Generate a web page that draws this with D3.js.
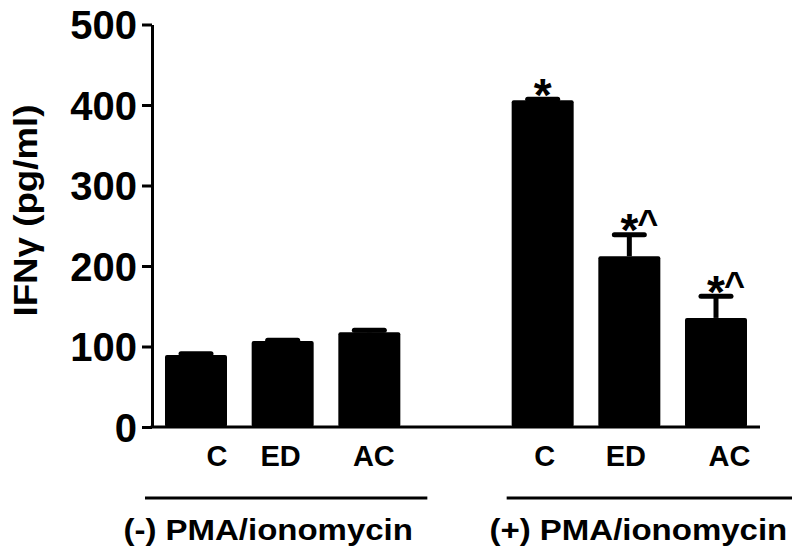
<!DOCTYPE html>
<html><head><meta charset="utf-8">
<script src="https://cdn.jsdelivr.net/npm/d3@7"></script>
<style>
body{margin:0;background:#fff}
text{font-family:"Liberation Sans",Arial,Helvetica,sans-serif;font-weight:bold;fill:#000}
</style>
</head><body>
<svg id="chart" width="800" height="557"></svg>
<script>
// ---- data ----
const categories = ["C", "ED", "AC", "C", "ED", "AC"];
const groups = ["(-) PMA/ionomycin", "(+) PMA/ionomycin"];
const groupOf = [0, 0, 0, 1, 1, 1];
const values = [89.5, 106.8, 117.6, 406, 212, 135.5];
const errors = [1.5, 1, 2.6, 1.2, 26.7, 27];
const annotations = ["", "", "", "*", "*^", "*^"];
const yTicks = [0, 100, 200, 300, 400, 500];
const yLabel = "IFNγ (pg/ml)";

// ---- layout ----
const W = 800, H = 557;
const plot = {left: 152, right: 760, top: 24.5, bottom: 427};
const labelDx = [21, -2, 4.5, 2, -3.5, 13.5];
const groupLinePad = [[-20, 27], [-5, 45]];
const groupLabelDx = [-18, -11];

const svg = d3.select("#chart");
const slots = ["b0", "b1", "b2", "gap", "b3", "b4", "b5"];
const slotOf = i => slots.filter(s => s !== "gap")[i];

const x = d3.scaleBand().domain(slots)
  .range([plot.left, plot.right]).paddingInner(0.2846).paddingOuter(0.15);
const y = d3.scaleLinear().domain([0, 500]).range([plot.bottom, plot.top]);
const bw = x.bandwidth();

const data = values.map((v, i) => ({v, e: errors[i], cat: categories[i], g: groupOf[i], ann: annotations[i], slot: slotOf(i), i}));

// error bars (upper only)
const eb = svg.append("g");
data.forEach(d => {
  const cx = x(d.slot) + bw / 2;
  eb.append("line").attr("x1", cx).attr("x2", cx)
    .attr("y1", y(d.v)).attr("y2", y(d.v + d.e))
    .attr("stroke", "#000").attr("stroke-width", 5);
  eb.append("line").attr("x1", cx - 15).attr("x2", cx + 15)
    .attr("y1", y(d.v + d.e)).attr("y2", y(d.v + d.e))
    .attr("stroke", "#000").attr("stroke-width", 5).attr("stroke-linecap", "round");
});

// bars
svg.append("g").selectAll("rect").data(data).join("rect")
  .attr("x", d => x(d.slot)).attr("width", bw)
  .attr("y", d => y(d.v)).attr("height", d => y(0) - y(d.v))
  .attr("rx", 2).attr("fill", "#000");

// annotations
data.filter(d => d.ann).forEach(d => {
  const cx = x(d.slot) + bw / 2;
  const top = y(d.v + d.e) - 2.5;
  svg.append("text").attr("x", cx).attr("y", top + 14)
    .attr("text-anchor", "middle").attr("font-size", 46).text("*");
  if (d.ann.includes("^")) {
    svg.append("text").attr("x", cx + 8).attr("y", top + 3)
      .attr("font-size", 36).text("^");
  }
});

// y axis
const yAxis = svg.append("g").attr("transform", `translate(${plot.left},0)`)
  .call(d3.axisLeft(y).tickValues(yTicks).tickSize(10).tickSizeOuter(0).tickPadding(5));
yAxis.select(".domain").attr("stroke-width", 3);
yAxis.selectAll(".tick line").attr("stroke-width", 3);
yAxis.selectAll(".tick text").attr("font-size", 40).attr("dy", "0.36em")
  .style("font-family", '"Liberation Sans",Arial,sans-serif').style("font-weight", "bold");

// x baseline
svg.append("line").attr("x1", plot.left - 1.5).attr("x2", plot.right)
  .attr("y1", y(0)).attr("y2", y(0)).attr("stroke", "#000").attr("stroke-width", 3);

// category labels
svg.append("g").selectAll("text").data(data).join("text")
  .attr("x", d => x(d.slot) + bw / 2 + labelDx[d.i]).attr("y", 466)
  .attr("text-anchor", "middle").attr("font-size", 29).text(d => d.cat);

// group lines and labels
groups.forEach((g, gi) => {
  const members = data.filter(d => d.g === gi);
  const x0 = x(members[0].slot) + groupLinePad[gi][0];
  const x1 = x(members[members.length - 1].slot) + bw + groupLinePad[gi][1];
  svg.append("line").attr("x1", x0).attr("x2", x1).attr("y1", 498).attr("y2", 498)
    .attr("stroke", "#000").attr("stroke-width", 3);
  svg.append("text").attr("transform", `translate(${(x0 + x1) / 2 + groupLabelDx[gi]},540) scale(1.1,1)`)
    .attr("text-anchor", "middle").attr("font-size", 30).text(g);
});

// y label
svg.append("text").attr("transform", "translate(37,210.5) rotate(-90) scale(1.08,1)")
  .attr("text-anchor", "middle").attr("font-size", 34).text(yLabel);
</script>
</body></html>
